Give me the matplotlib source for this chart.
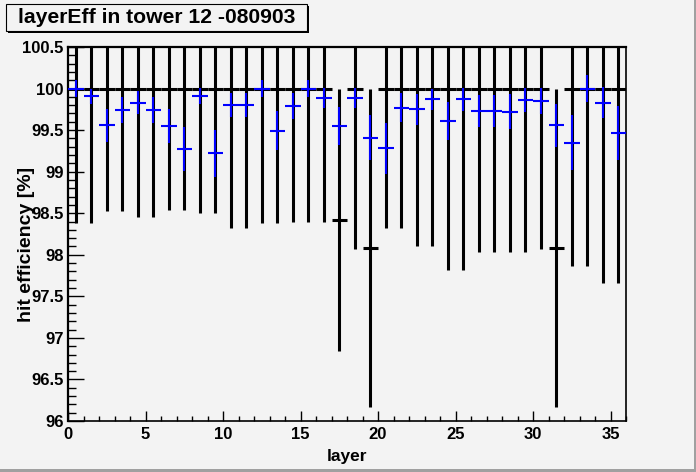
import matplotlib
matplotlib.use("Agg")
import matplotlib.pyplot as plt
from matplotlib.patches import Rectangle
import numpy as np

# ---- data ----
layers = np.arange(36) + 0.5

# reference (black) series
ref_val = [100, 100, 100, 100, 100, 100, 100, 100, 100, 100,
           100, 100, 100, 100, 100, 100, 100, 98.42, 100, 98.08,
           100, 100, 100, 100, 100, 100, 100, 100, 100, 100,
           100, 98.08, 100, 100, 100, 100]
ref_err = [1.62, 1.62, 1.475, 1.475, 1.55, 1.55, 1.46, 1.46, 1.50, 1.50,
           1.68, 1.68, 1.62, 1.62, 1.60, 1.60, 1.60, 1.58, 1.93, 1.91,
           1.68, 1.68, 1.90, 1.90, 2.18, 2.18, 1.97, 1.97, 1.97, 1.97,
           1.93, 1.91, 2.14, 2.14, 2.34, 2.34]

# measured (blue) series
eff_val = [100.0, 99.91, 99.56, 99.74, 99.83, 99.74, 99.55, 99.27, 99.91, 99.22,
           99.80, 99.80, 100.0, 99.49, 99.79, 100.0, 99.89, 99.55, 99.89, 99.41,
           99.28, 99.77, 99.75, 99.87, 99.61, 99.87, 99.73, 99.73, 99.72, 99.86,
           99.85, 99.56, 99.35, 100.0, 99.83, 99.47]
eff_err = [0.10, 0.09, 0.20, 0.155, 0.135, 0.155, 0.21, 0.265, 0.10, 0.28,
           0.146, 0.146, 0.10, 0.235, 0.155, 0.105, 0.12, 0.225, 0.12, 0.27,
           0.305, 0.175, 0.185, 0.13, 0.23, 0.135, 0.195, 0.195, 0.21, 0.145,
           0.155, 0.26, 0.33, 0.165, 0.185, 0.325]

title = "layerEff in tower 12 -080903"
xlabel = "layer"
ylabel = "hit efficiency [%]"
xlim = (0, 36)
ylim = (96, 100.5)

# ---- figure ----
W, H = 696, 472
bg = "#f3f3f3"
fig = plt.figure(figsize=(W / 100, H / 100), dpi=100, facecolor=bg)
plt.rcParams["font.family"] = ["Liberation Sans", "DejaVu Sans"]
plt.rcParams["font.weight"] = "bold"

L, R, T, B = 68, 626, 47, 421
ax = fig.add_axes([L / W, 1 - B / H, (R - L) / W, (B - T) / H])
ax.set_facecolor(bg)

ax.errorbar(layers, ref_val, xerr=0.5, yerr=ref_err, fmt="none",
            ecolor="black", elinewidth=2.2, capsize=0, zorder=2)
ax.errorbar(layers, eff_val, xerr=0.5, yerr=eff_err, fmt="none",
            ecolor="#0000ff", elinewidth=1.5, capsize=0, zorder=3)

ax.set_xlim(*xlim)
ax.set_ylim(*ylim)
ax.set_xticks(np.arange(0, 36, 5))
ax.set_xticks(np.arange(0, 37, 1), minor=True)
ax.set_yticks(np.arange(96, 100.51, 0.5))
ax.set_yticks(np.arange(96, 100.51, 0.1), minor=True)
ax.set_yticklabels(["96", "96.5", "97", "97.5", "98", "98.5", "99", "99.5", "100", "100.5"])

ax.tick_params(axis="x", which="major", direction="in", length=7.5, width=1.0,
               labelsize=12, pad=4, top=False)
ax.tick_params(axis="x", which="minor", direction="in", length=3.8, width=1.0, top=False)
ax.tick_params(axis="y", which="major", direction="in", length=11.5, width=1.0,
               labelsize=12, pad=3, right=False)
ax.tick_params(axis="y", which="minor", direction="in", length=5.8, width=1.0, right=False)
for lab in ax.get_xticklabels() + ax.get_yticklabels():
    lab.set_fontweight("bold")

for s in ax.spines.values():
    s.set_linewidth(1.2)
ax.spines["top"].set_linewidth(1.6)
ax.spines["left"].set_linewidth(1.6)

fig.text(347 / W, 1 - 456 / H, xlabel, ha="center", va="center",
         fontsize=12.5, fontweight="bold")
fig.text(27 / W, 1 - 244 / H, ylabel, ha="center", va="center",
         rotation=90, fontsize=14, fontweight="bold")

# title box with shadow
fig.patches.append(Rectangle((8 / W, 1 - 33 / H), 301 / W, 27 / H,
                             transform=fig.transFigure, facecolor="black",
                             edgecolor="none", zorder=5))
fig.patches.append(Rectangle((6 / W, 1 - 31 / H), 301 / W, 27 / H,
                             transform=fig.transFigure, facecolor=bg,
                             edgecolor="black", linewidth=0.8, zorder=6))
fig.text(157 / W, 1 - 17.5 / H, title, ha="center", va="center",
         fontsize=15.2, fontweight="bold", zorder=7)

# window border
fig.patches.append(Rectangle((694 / W, 0), 2 / W, 1, transform=fig.transFigure,
                             facecolor="#a0a0a0", edgecolor="none", zorder=8))
fig.patches.append(Rectangle((0, 0), 1, 3 / H, transform=fig.transFigure,
                             facecolor="#a0a0a0", edgecolor="none", zorder=8))

fig.savefig("out.png", dpi=100, facecolor=bg)
